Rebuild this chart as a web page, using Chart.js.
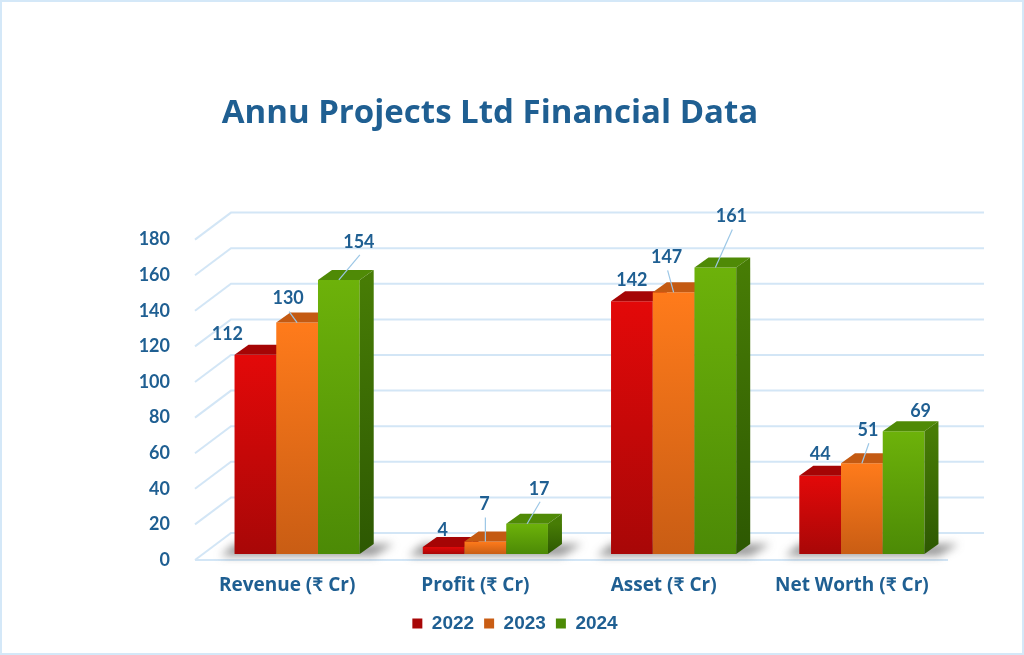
<!DOCTYPE html>
<html>
<head>
<meta charset="utf-8">
<script src="https://cdn.jsdelivr.net/npm/chart.js@4.4.1/dist/chart.umd.min.js"></script>
<style>
  html, body { margin: 0; padding: 0; background: #fff; }
</style>
</head>
<body>
<canvas id="finChart" width="1024" height="655"></canvas>
<script>
const CATEGORIES = ['Revenue (₹ Cr)', 'Profit (₹ Cr)', 'Asset (₹ Cr)', 'Net Worth (₹ Cr)'];
const YEARS = ['2022', '2023', '2024'];
const VALUES_2022 = [112, 4, 142, 44];
const VALUES_2023 = [130, 7, 147, 51];
const VALUES_2024 = [154, 17, 161, 69];
const Y_MIN = 0;
const Y_MAX = 180;
const Y_STEP = 20;

// where each value label sits, relative to the top centre of its bar
const LABEL_NUDGE = [
  [[-28, -20], [-1, -17], [0, -21], [0, -21]],
  [[-9, -24], [-1, -37], [-7, -35], [6, -33]],
  [[20, -38], [12, -35], [16, -51], [17, -20]]
];

const TEXT_BLUE = '#1f5f92';
const FONT = 'Lato, "Open Sans", "DejaVu Sans", sans-serif';
const WIDE_FONT = '"Open Sans", Lato, "DejaVu Sans", sans-serif';

// front gradient (top, bottom), top face, side face (top, bottom)
const STYLES = [
  { front: ['#e30909', '#a80707'], top: '#a50505', side: ['#8a0404', '#5c0202'], legend: '#c80808' },
  { front: ['#ff7b1b', '#c95d14'], top: '#c45a12', side: ['#a84a0c', '#7a3406'], legend: '#e86c17' },
  { front: ['#6db20a', '#4c8a06'], top: '#4f8a06', side: ['#477c05', '#2d5802'], legend: '#5e9f08' }
];

const DEPTH = { x: 14, y: -10 };   // bar depth (top and side faces)
const FRONT = { x: -8, y: 6 };     // front edge of the floor
const BACK = { x: 28, y: -21 };    // back wall

function frontFill(style) {
  return function (c) {
    const chart = c.chart;
    if (c.type !== 'data' || !chart.chartArea) return style.legend;
    const ys = chart.scales.y;
    const g = chart.ctx.createLinearGradient(0, ys.getPixelForValue(c.raw), 0, ys.getPixelForValue(0));
    g.addColorStop(0, style.front[0]);
    g.addColorStop(1, style.front[1]);
    return g;
  };
}

const border = {
  id: 'border',
  beforeDraw(chart) {
    const ctx = chart.ctx;
    ctx.save();
    ctx.fillStyle = '#fff';
    ctx.fillRect(0, 0, chart.width, chart.height);
    ctx.strokeStyle = '#d4e8f8';
    ctx.lineWidth = 2;
    ctx.strokeRect(1, 1, chart.width - 2, chart.height - 2);
    ctx.restore();
  },
  afterLayout(chart) {
    // legend sits a bit right of the title in the original
    chart.legend.left += 25;
    chart.legend.right += 25;
  }
};

const bars3d = {
  id: 'bars3d',
  beforeDatasetsDraw(chart) {
    const ctx = chart.ctx;
    const area = chart.chartArea;
    const ys = chart.scales.y;
    ctx.save();

    // walls and floor
    ctx.strokeStyle = '#d3e6f6';
    ctx.lineWidth = 2;
    ys.ticks.forEach(t => {
      const py = ys.getPixelForValue(t.value);
      ctx.beginPath();
      ctx.moveTo(area.left + FRONT.x, py + FRONT.y);
      ctx.lineTo(area.left + BACK.x, py + BACK.y);
      ctx.lineTo(area.right + BACK.x, py + BACK.y);
      if (t.value === 0) {
        ctx.moveTo(area.left + FRONT.x, py + FRONT.y);
        ctx.lineTo(area.right + FRONT.x, py + FRONT.y);
      }
      ctx.stroke();
    });

    const metas = chart.getSortedVisibleDatasetMetas();
    for (let j = 0; j < CATEGORIES.length; j++) {
      const first = metas[0].data[j];
      const last = metas[metas.length - 1].data[j];
      const x0 = first.x - first.width / 2;
      const x1 = last.x + last.width / 2;
      const base = first.base;

      // soft shadow on the floor
      ctx.save();
      ctx.filter = 'blur(4px)';
      ctx.fillStyle = 'rgba(70,70,70,0.55)';
      ctx.beginPath();
      ctx.moveTo(x0 - 14, base + 2);
      ctx.lineTo(x1 + DEPTH.x, base + 2);
      ctx.lineTo(x1 + DEPTH.x + 20, base + DEPTH.y);
      ctx.lineTo(x0, base + DEPTH.y);
      ctx.closePath();
      ctx.fill();
      ctx.restore();

      metas.forEach(meta => {
        const bar = meta.data[j];
        const st = STYLES[meta.index];
        const l = bar.x - bar.width / 2;
        const r = bar.x + bar.width / 2;
        bar.draw(ctx, area);

        ctx.fillStyle = st.top;
        ctx.beginPath();
        ctx.moveTo(l, bar.y);
        ctx.lineTo(l + DEPTH.x, bar.y + DEPTH.y);
        ctx.lineTo(r + DEPTH.x, bar.y + DEPTH.y);
        ctx.lineTo(r, bar.y);
        ctx.closePath();
        ctx.fill();

        const g = ctx.createLinearGradient(0, bar.y, 0, bar.base);
        g.addColorStop(0, st.side[0]);
        g.addColorStop(1, st.side[1]);
        ctx.fillStyle = g;
        ctx.beginPath();
        ctx.moveTo(r, bar.y);
        ctx.lineTo(r + DEPTH.x, bar.y + DEPTH.y);
        ctx.lineTo(r + DEPTH.x, bar.base + DEPTH.y);
        ctx.lineTo(r, bar.base);
        ctx.closePath();
        ctx.fill();
      });
    }

    // value labels with leader lines
    ctx.font = 'bold 18px ' + FONT;
    ctx.textAlign = 'center';
    ctx.textBaseline = 'middle';
    metas.forEach(meta => {
      const values = chart.data.datasets[meta.index].data;
      meta.data.forEach((bar, j) => {
        const nudge = LABEL_NUDGE[meta.index][j];
        const lx = bar.x + nudge[0];
        const ly = bar.y + nudge[1];
        if (nudge[1] < -22) {
          ctx.strokeStyle = '#9cc7e6';
          ctx.lineWidth = 1.2;
          ctx.beginPath();
          ctx.moveTo(lx + 1, ly + 13);
          ctx.lineTo(bar.x, bar.y);
          ctx.stroke();
        }
        ctx.fillStyle = TEXT_BLUE;
        ctx.fillText(String(values[j]), lx, ly);
      });
    });

    ctx.restore();
    return false;
  }
};

const seriesValues = [VALUES_2022, VALUES_2023, VALUES_2024];

new Chart(document.getElementById('finChart'), {
  type: 'bar',
  data: {
    labels: CATEGORIES,
    datasets: YEARS.map((year, i) => ({
      label: year,
      data: seriesValues[i],
      backgroundColor: frontFill(STYLES[i]),
      borderWidth: 0,
      categoryPercentage: 0.665,
      barPercentage: 1
    }))
  },
  options: {
    responsive: false,
    animation: false,
    layout: { padding: { left: 24, right: 68, top: 0, bottom: 12 } },
    plugins: {
      title: {
        display: true,
        text: 'Annu Projects Ltd Financial Data',
        color: TEXT_BLUE,
        font: { family: WIDE_FONT, size: 33, weight: 'bold' },
        padding: { top: 94, bottom: 100 }
      },
      legend: {
        position: 'bottom',
        labels: {
          boxWidth: 10,
          boxHeight: 10,
          padding: 10,
          color: TEXT_BLUE,
          font: { family: '"Liberation Sans", Arial, sans-serif', size: 19, weight: 'bold' }
        }
      },
      tooltip: { enabled: false }
    },
    scales: {
      x: {
        grid: { display: false, drawTicks: false },
        border: { display: false },
        ticks: {
          color: TEXT_BLUE,
          font: { family: WIDE_FONT, size: 19, weight: 'bold' },
          padding: 20,
          labelOffset: -10
        },
        afterFit(scale) { scale.height = 50; }
      },
      y: {
        min: Y_MIN,
        max: Y_MAX,
        grid: { display: false, drawTicks: false },
        border: { display: false },
        ticks: {
          stepSize: Y_STEP,
          color: TEXT_BLUE,
          font: { family: FONT, size: 18, weight: 'bold' },
          padding: 33,
          labelOffset: 6
        },
        afterFit(scale) { scale.width = 179; }
      }
    }
  },
  plugins: [border, bars3d]
});
</script>
</body>
</html>
